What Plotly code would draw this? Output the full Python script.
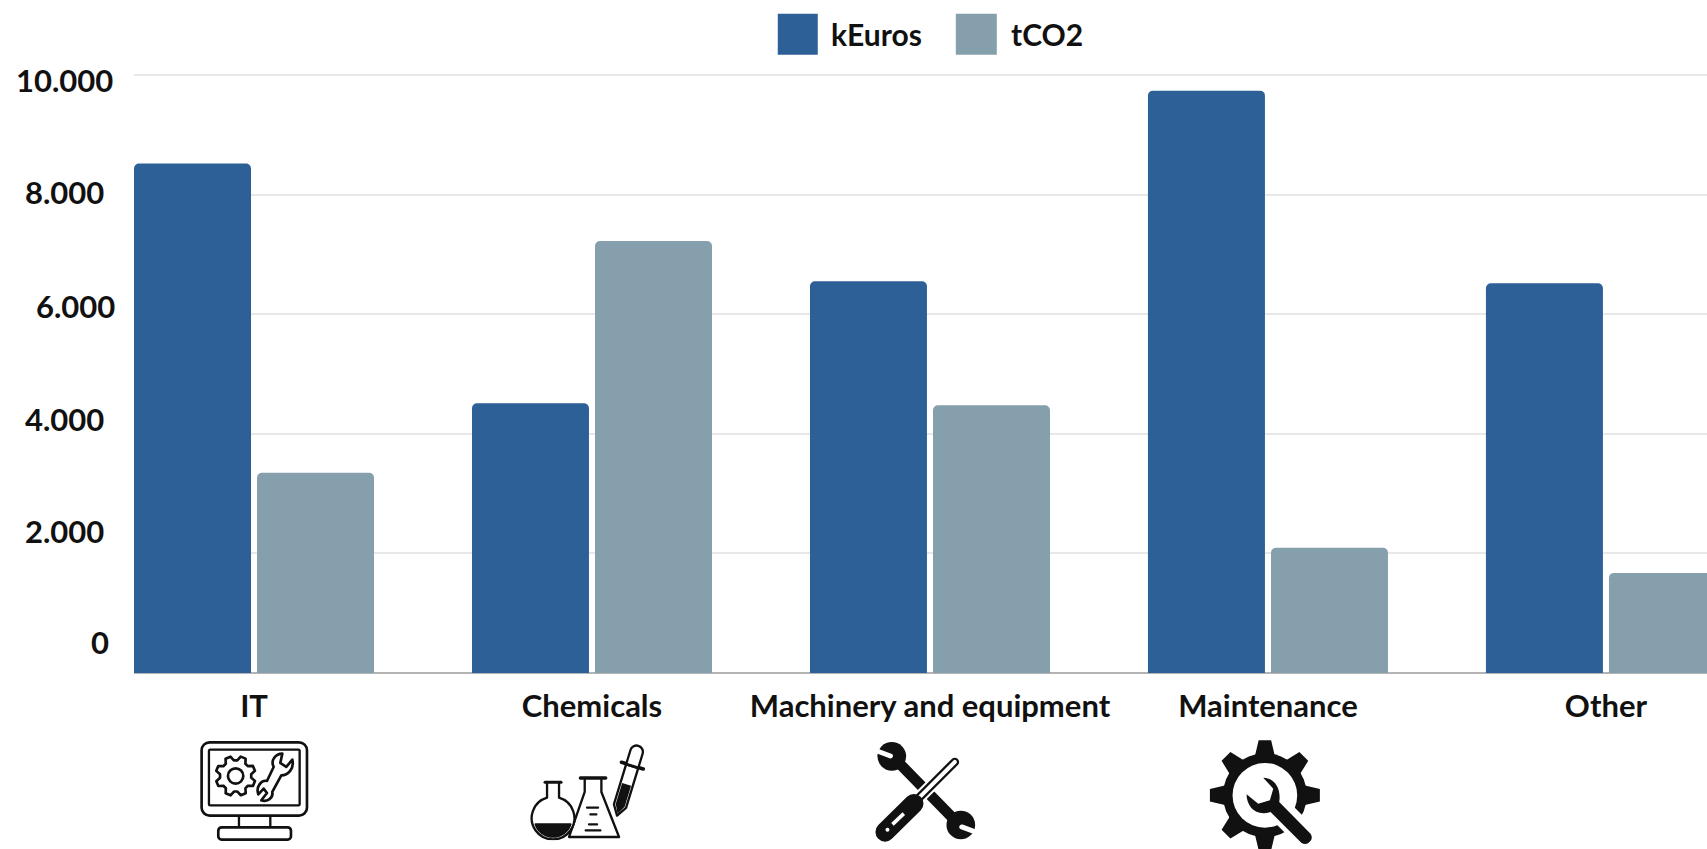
import math
import base64
import plotly.graph_objects as go

# ---------- data ----------
categories = ["IT", "Chemicals", "Machinery and equipment", "Maintenance", "Other"]
keuros = [8525, 4515, 6555, 9745, 6520]
tco2 = [3350, 7230, 4480, 2095, 1675]
y_ticks = [0, 2000, 4000, 6000, 8000, 10000]
y_tick_labels = ["0", "2.000", "4.000", "6.000", "8.000", "10.000"]
series_names = ["kEuros", "tCO2"]

# ---------- layout constants ----------
W, H = 1707, 849
ML, MR, MT, MB = 134.4, 0, 72.7, 176.3
PW, PH = W - ML - MR, H - MT - MB
BLUE, GREY = "#2E6098", "#85A0AC"
INK = "#111111"
FONT = "Lato"
# pixel centres of the y tick labels, which sit apart from their gridlines
y_label_px = [(100, 642), (65, 531), (65, 419), (76, 306), (65, 192), (65, 79.6)]


def px_x(x):
    return (x - ML) / PW


def px_y(y):
    return 1 - (y - MT) / PH


def gear_points(cx, cy, r_out, r_root, teeth, rot=0.0, tip=0.12, root=0.28):
    pts = []
    step = 2 * math.pi / teeth
    for i in range(teeth):
        a = rot + i * step
        for da, r in ((-root, r_root), (-tip, r_out), (tip, r_out), (root, r_root)):
            ang = a + da * step * 1.2
            pts.append(f"{cx + r * math.cos(ang):.1f},{cy + r * math.sin(ang):.1f}")
    return " ".join(pts)


def data_uri(view, body):
    vx, vy, vw, vh = view
    svg = (f'<svg xmlns="http://www.w3.org/2000/svg" viewBox="{vx} {vy} {vw} {vh}" '
           f'width="{vw}" height="{vh}">{body}</svg>')
    return "data:image/svg+xml;base64," + base64.b64encode(svg.encode()).decode()


icon_it = f'''
<g fill="none" stroke="{INK}" stroke-linejoin="round">
<rect x="156" y="66" width="316" height="220" rx="24" stroke-width="8"/>
<rect x="178" y="88" width="272" height="167" rx="4" stroke-width="7"/>
<path d="M268 286V322M362 286V322" stroke-width="7"/>
<rect x="206" y="321" width="218" height="37" rx="10" stroke-width="8"/>
<polygon points="{gear_points(258, 167, 60, 47, 8, 0.39, 0.14, 0.3)}" stroke-width="8" fill="#fff"/>
<circle cx="258" cy="167" r="23" stroke-width="8"/>
<path d="M398 100 L392 128 L410 140 L428 118 C435 145 415 165 395 165 L368 215 C372 235 350 245 335 240 L352 218 L342 205 L326 222 C318 200 335 178 352 182 L372 140 C362 120 378 100 398 100 Z"
 fill="#fff" stroke-width="8"/>
</g>
'''

icon_chem = f'''
<g fill="#fff" stroke="{INK}" stroke-width="7" stroke-linejoin="round" stroke-linecap="round">
<path d="M1305 178V215L1258 350H1408L1355 215V178"/>
<path d="M1292 173H1368" stroke-width="10"/>
<path d="M1312 262H1345M1322 282H1340M1318 312H1342M1308 330H1352" fill="none"/>
<path d="M1192 188V232A64 64 0 1 0 1228 232V188"/>
<path d="M1186 186H1234" stroke-width="9"/>
<path d="M1158 312H1262A55 55 0 0 1 1158 312Z" fill="{INK}"/>
<g transform="translate(1402,286) rotate(17)">
<path d="M0 0L-19 -30V-155H19V-30Z"/>
<path d="M0 -6L-14 -32V-98H14V-32Z" fill="{INK}" stroke="none"/>
<path d="M-34 -157H34" stroke-width="11"/>
<path d="M-19 -160V-200A19 19 0 0 1 19 -200V-160" />
</g>
</g>
'''

icon_tools = f'''
<g stroke-linecap="round" fill="none">
<line x1="160" y1="110" x2="360" y2="315" stroke="{INK}" stroke-width="32"/>
<circle cx="156" cy="108" r="43" fill="{INK}"/>
<circle cx="363" cy="314" r="43" fill="{INK}"/>
<line x1="112" y1="92" x2="152" y2="107" stroke="#fff" stroke-width="15"/>
<line x1="366" y1="320" x2="410" y2="336" stroke="#fff" stroke-width="15"/>
<line x1="222" y1="248" x2="345" y2="125" stroke="#fff" stroke-width="38"/>
<line x1="222" y1="248" x2="345" y2="125" stroke="{INK}" stroke-width="26"/>
<line x1="226" y1="244" x2="345" y2="125" stroke="#fff" stroke-width="12"/>
<line x1="136" y1="335" x2="222" y2="250" stroke="{INK}" stroke-width="58"/>
<line x1="158" y1="312" x2="192" y2="280" stroke="#fff" stroke-width="11" stroke-linecap="butt"/>
<circle cx="143" cy="328" r="6" fill="#fff"/>
</g>
'''

gear_wrench = ("M1270 172 C1300 172 1325 200 1318 245 L1412 340 A20 20 0 0 1 1385 368 "
               "L1292 275 C1250 290 1220 260 1220 222 L1255 250 L1290 240 L1300 205 Z")
icon_gear = f'''
<polygon points="{gear_points(1275, 225, 166, 118, 8, 0)}" fill="{INK}"/>
<circle cx="1275" cy="225" r="126" fill="{INK}"/>
<circle cx="1275" cy="225" r="97" fill="#fff"/>
<line x1="1320" y1="270" x2="1440" y2="390" stroke="#fff" stroke-width="74"/>
<path d="{gear_wrench}" fill="{INK}"/>
'''

# icons: (svg body, zoom-crop viewBox, left/top origin of the crop in page pixels)
icons = [
    (icon_it, (148, 58, 332, 308), (150, 720)),
    (icon_chem, (1140, 58, 362, 302), (150, 720)),
    (icon_tools, (100, 60, 312, 310), (840, 720)),
    (icon_gear, (1105, 55, 340, 332), (840, 720)),
]
images = []
for body, view, origin in icons:
    vx, vy, vw, vh = view
    images.append(dict(
        source=data_uri(view, body), xref="paper", yref="paper",
        x=px_x(origin[0] + vx / 3), y=px_y(origin[1] + vy / 3),
        sizex=vw / 3 / PW, sizey=vh / 3 / PH,
        xanchor="left", yanchor="top", sizing="stretch", layer="above",
    ))

fig = go.Figure()
for name, values, color in zip(series_names, [keuros, tco2], [BLUE, GREY]):
    fig.add_trace(go.Bar(name=name, x=categories, y=values,
                         marker=dict(color=color, line=dict(width=0), cornerradius=5),
                         showlegend=False))

annotations = []
for label, (cx, cy) in zip(y_tick_labels, y_label_px):
    annotations.append(dict(text=f"<b>{label}</b>", xref="paper", yref="paper",
                            x=px_x(cx), y=px_y(cy), xanchor="center", yanchor="middle",
                            showarrow=False, font=dict(family=FONT, size=31, color=INK)))

# legend, drawn larger than Plotly's fixed bar swatch allows
shapes = []
legend_px = [(778, 818, 829, BLUE), (956, 997, 1009, GREY)]
for name, (x0, x1, tx, color) in zip(series_names, legend_px):
    shapes.append(dict(type="rect", xref="paper", yref="paper", x0=px_x(x0), x1=px_x(x1),
                       y0=px_y(54.5), y1=px_y(13.5), fillcolor=color, line=dict(width=0)))
    annotations.append(dict(text=f"<b>{name}</b>", xref="paper", yref="paper",
                            x=px_x(tx), y=px_y(34), xanchor="left", yanchor="middle",
                            showarrow=False, font=dict(family=FONT, size=30, color=INK)))

fig.update_layout(
    width=W, height=H, autosize=False,
    margin=dict(l=ML, r=MR, t=MT, b=MB, pad=0),
    paper_bgcolor="#ffffff", plot_bgcolor="#ffffff",
    barmode="group", bargap=0.272, bargroupgap=0.049,
    shapes=shapes, annotations=annotations, images=images,
    font=dict(family=FONT, color=INK),
    xaxis=dict(type="category", range=[-0.3551, 4.299], showgrid=False, zeroline=False,
               showline=False, ticks="outside", ticklen=6, tickcolor="rgba(0,0,0,0)",
               tickfont=dict(family=FONT, size=31, color=INK, weight=700), automargin=False,
               tickangle=0),
    yaxis=dict(range=[0, 10040], tickvals=y_ticks, showticklabels=False, showline=False,
               gridcolor="#E8E8E8", gridwidth=2, zeroline=True, zerolinecolor="#B4B4B4",
               zerolinewidth=2, automargin=False),
)

fig.write_html("out.html", config=dict(displayModeBar=False),
               post_script="document.body.style.margin='0';")
